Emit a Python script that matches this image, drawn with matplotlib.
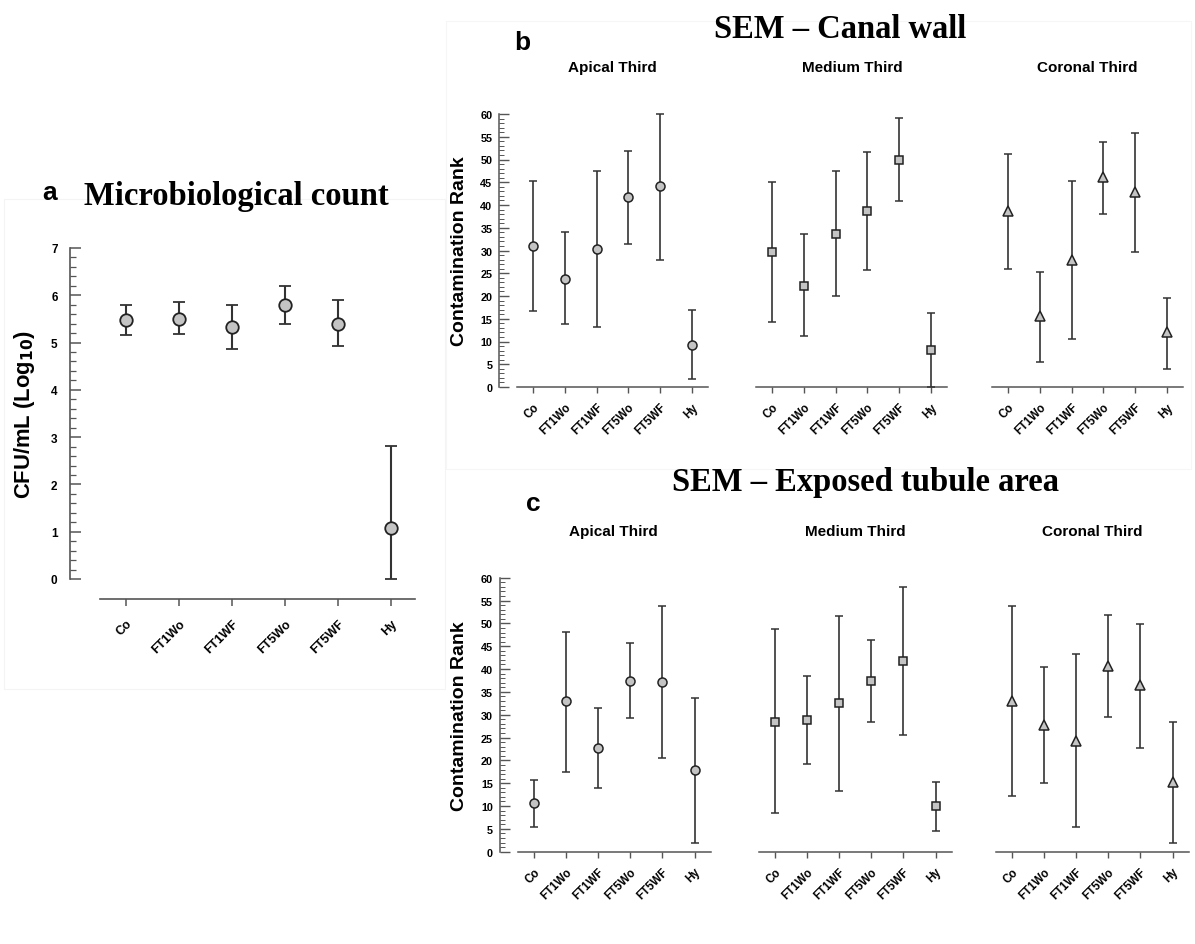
import matplotlib
matplotlib.use("Agg")
import matplotlib.pyplot as plt
from matplotlib.patches import Rectangle
from matplotlib.ticker import MultipleLocator, FixedLocator
import numpy as np

W, H = 1195, 945

groups = ["Co", "FT1Wo", "FT1WF", "FT5Wo", "FT5WF", "Hy"]

# Panel a: microbiological count (log10 CFU/mL)
a_mean = [5.47, 5.50, 5.32, 5.80, 5.40, 1.07]
a_low = [5.15, 5.18, 4.87, 5.40, 4.93, 0.00]
a_high = [5.80, 5.85, 5.80, 6.20, 5.90, 2.82]

# Panel b: SEM canal wall (contamination rank)
b_apical_mean = [31.0, 23.8, 30.3, 41.7, 44.2, 9.2]
b_apical_low = [16.7, 13.8, 13.1, 31.4, 27.9, 1.7]
b_apical_high = [45.3, 34.0, 47.5, 51.9, 60.0, 16.9]

b_medium_mean = [29.7, 22.2, 33.7, 38.6, 50.0, 8.2]
b_medium_low = [14.3, 11.1, 20.0, 25.7, 40.8, 0.0]
b_medium_high = [45.1, 33.6, 47.5, 51.6, 59.1, 16.2]

b_coronal_mean = [38.7, 15.6, 28.0, 46.1, 42.8, 12.0]
b_coronal_low = [26.0, 5.5, 10.5, 38.0, 29.7, 4.0]
b_coronal_high = [51.2, 25.2, 45.2, 53.8, 55.8, 19.6]

# Panel c: SEM exposed tubule area (contamination rank)
c_apical_mean = [10.6, 32.9, 22.6, 37.4, 37.1, 17.8]
c_apical_low = [5.3, 17.5, 13.9, 29.2, 20.6, 1.9]
c_apical_high = [15.8, 48.2, 31.4, 45.8, 53.7, 33.7]

c_medium_mean = [28.5, 28.9, 32.5, 37.4, 41.7, 9.9]
c_medium_low = [8.4, 19.3, 13.4, 28.5, 25.5, 4.5]
c_medium_high = [48.8, 38.5, 51.6, 46.4, 58.0, 15.3]

c_coronal_mean = [32.9, 27.8, 24.3, 40.7, 36.4, 15.2]
c_coronal_low = [12.3, 15.0, 5.3, 29.5, 22.8, 1.9]
c_coronal_high = [53.7, 40.5, 43.2, 51.9, 49.8, 28.3]

thirds = ["Apical Third", "Medium Third", "Coronal Third"]

SANS = ["Liberation Sans", "DejaVu Sans"]
SERIF = ["Liberation Serif", "DejaVu Serif"]

fig = plt.figure(figsize=(W / 100, H / 100), dpi=100)
fig.patch.set_facecolor("white")


def px_axes(left, top, right, bottom):
    return fig.add_axes([left / W, 1 - bottom / H, (right - left) / W, (bottom - top) / H])


def ftext(x, y, s, **kw):
    fig.text(x / W, 1 - y / H, s, **kw)


# faint frames (as in reference)
fig.add_artist(Rectangle((4 / W, 1 - 690 / H), 441 / W, 490 / H, transform=fig.transFigure,
                         fill=False, edgecolor="#f4f4f4", linewidth=0.8))
fig.add_artist(Rectangle((446 / W, 1 - 470 / H), 745 / W, 448 / H, transform=fig.transFigure,
                         fill=False, edgecolor="#f6f6f6", linewidth=0.8))

ERRC = "#333333"
SPC = "#555555"

# ---------------- Panel a ----------------
xs = np.arange(len(groups))
ax = px_axes(70, 249, 415, 600)
ax.set_xlim(-1.057, 5.453)
ax.set_ylim(-0.423, 7)
yerr = [np.array(a_mean) - np.array(a_low), np.array(a_high) - np.array(a_mean)]
ax.errorbar(xs, a_mean, yerr=yerr, fmt="o", color=ERRC, ecolor=ERRC, elinewidth=1.5,
            capsize=4, capthick=1.5, markersize=9, markerfacecolor="#c4c4c4",
            markeredgecolor="#222222", markeredgewidth=1.3, clip_on=False, zorder=3)
for s in ["top", "right"]:
    ax.spines[s].set_visible(False)
ax.spines["left"].set_bounds(0, 7)
ax.spines["bottom"].set_bounds(-0.49, 5.45)
for s in ["left", "bottom"]:
    ax.spines[s].set_color(SPC)
    ax.spines[s].set_linewidth(1.2)
ax.yaxis.set_major_locator(FixedLocator(np.arange(0, 8, 1)))
ax.yaxis.set_minor_locator(FixedLocator(np.arange(0, 7.01, 0.2)))
ax.tick_params(axis="y", which="major", direction="in", length=8, width=1.1, color=SPC, pad=9,
               labelsize=8.5)
ax.tick_params(axis="y", which="minor", direction="in", length=4, width=0.9, color=SPC)
ax.set_xticks(xs)
ax.set_xticklabels(groups, rotation=45, ha="right", rotation_mode="anchor")
ax.tick_params(axis="x", direction="out", length=5, width=1.1, color=SPC, pad=8, labelsize=9)
for lab in ax.get_xticklabels() + ax.get_yticklabels():
    lab.set_fontfamily(SANS)
    lab.set_fontweight("bold")
ax.patch.set_alpha(0)

ftext(25, 415, "CFU/mL (Log$_{\\mathbf{10}}$)", rotation=90, ha="center", va="center",
      fontsize=15.8, fontweight="bold", family=SANS)
ftext(50, 193, "a", ha="center", va="center", fontsize=19, fontweight="bold", family=SANS)
ftext(236, 197, "Microbiological count", ha="center", va="center", fontsize=23.5,
      fontweight="bold", family=SERIF)


# ---------------- SEM panels ----------------
def sem_panel(co_px, sp, top_px, zero_px, means, lows, highs, marker, show_y, msize):
    left = co_px - 1.06 * sp
    right = co_px + 5.5 * sp
    ax = px_axes(left, top_px, right, zero_px)
    ax.set_xlim(-1.06, 5.5)
    ax.set_ylim(0, 60)
    m = np.array(means)
    err = [m - np.array(lows), np.array(highs) - m]
    ax.errorbar(xs, m, yerr=err, fmt=marker, color=ERRC, ecolor=ERRC, elinewidth=1.2,
                capsize=3, capthick=1.2, markersize=msize, markerfacecolor="#c4c4c4",
                markeredgecolor="#222222", markeredgewidth=1.1, clip_on=False, zorder=3)
    for s in ["top", "right"]:
        ax.spines[s].set_visible(False)
    ax.spines["bottom"].set_bounds(-0.5, 5.5)
    ax.spines["bottom"].set_color(SPC)
    ax.spines["bottom"].set_linewidth(1.1)
    ax.set_xticks(xs)
    ax.set_xticklabels(groups, rotation=45, ha="right", rotation_mode="anchor")
    ax.tick_params(axis="x", direction="out", length=4, width=1.0, color=SPC, pad=6,
                   labelsize=8.3)
    if show_y:
        ax.spines["left"].set_bounds(0, 60)
        ax.spines["left"].set_color(SPC)
        ax.spines["left"].set_linewidth(1.1)
        ax.yaxis.set_major_locator(MultipleLocator(5))
        ax.yaxis.set_minor_locator(MultipleLocator(1))
        ax.tick_params(axis="y", which="major", direction="in", length=7, width=1.0,
                       color=SPC, pad=5, labelsize=7.8)
        ax.tick_params(axis="y", which="minor", direction="in", length=3.5, width=0.7,
                       color=SPC)
    else:
        ax.spines["left"].set_visible(False)
        ax.set_yticks([])
    for lab in ax.get_xticklabels() + ax.get_yticklabels():
        lab.set_fontfamily(SANS)
        lab.set_fontweight("bold")
    ax.patch.set_alpha(0)
    return ax


# Panel b
b_data = [(b_apical_mean, b_apical_low, b_apical_high),
          (b_medium_mean, b_medium_low, b_medium_high),
          (b_coronal_mean, b_coronal_low, b_coronal_high)]
b_co = [533, 772, 1008]
markers = ["o", "s", "^"]
msizes = [6.5, 5.8, 7.0]
for i in range(3):
    mm, ll, hh = b_data[i]
    sem_panel(b_co[i], 31.8, 115, 388, mm, ll, hh, markers[i], i == 0, msizes[i])
b_sub_x = [612, 852, 1087]
for i in range(3):
    ftext(b_sub_x[i], 68, thirds[i], ha="center", va="center", fontsize=11,
          fontweight="bold", family=SANS)
ftext(459, 251, "Contamination Rank", rotation=90, ha="center", va="center", fontsize=14,
      fontweight="bold", family=SANS)
ftext(522, 43, "b", ha="center", va="center", fontsize=19, fontweight="bold", family=SANS)
ftext(840, 30, "SEM \u2013 Canal wall", ha="center", va="center", fontsize=23.5,
      fontweight="bold", family=SERIF)

# Panel c
c_data = [(c_apical_mean, c_apical_low, c_apical_high),
          (c_medium_mean, c_medium_low, c_medium_high),
          (c_coronal_mean, c_coronal_low, c_coronal_high)]
c_co = [534, 775, 1012]
for i in range(3):
    mm, ll, hh = c_data[i]
    sem_panel(c_co[i], 32.1, 578.7, 852.7, mm, ll, hh, markers[i], i == 0, msizes[i])
c_sub_x = [613, 855, 1092]
for i in range(3):
    ftext(c_sub_x[i], 532, thirds[i], ha="center", va="center", fontsize=11,
          fontweight="bold", family=SANS)
ftext(459, 716, "Contamination Rank", rotation=90, ha="center", va="center", fontsize=14,
      fontweight="bold", family=SANS)
ftext(533, 504, "c", ha="center", va="center", fontsize=19, fontweight="bold", family=SANS)
ftext(866, 483, "SEM \u2013 Exposed tubule area", ha="center", va="center", fontsize=23.5,
      fontweight="bold", family=SERIF)

fig.savefig("out.png", dpi=100, facecolor="white")
